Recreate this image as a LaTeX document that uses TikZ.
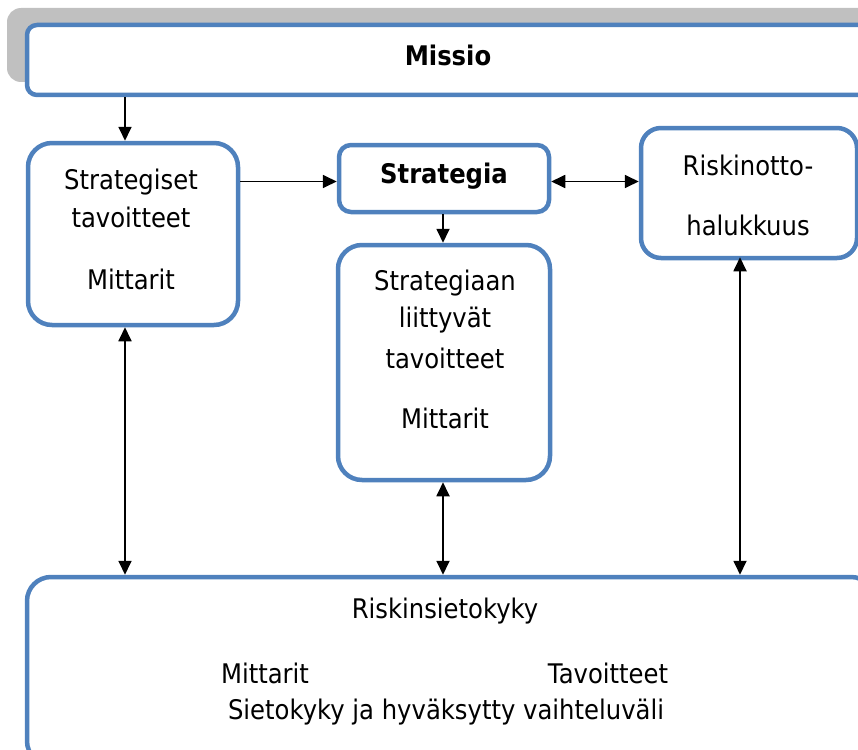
\documentclass[tikz,border=0pt]{standalone}
\usepackage{fontspec}
\setmainfont{DejaVu Sans}[FakeStretch=0.9]
\usetikzlibrary{arrows.meta}
\definecolor{bluebd}{RGB}{79,129,189}
\definecolor{grayband}{RGB}{192,192,192}
\tikzset{
  box/.style={draw=bluebd, line width=4.5pt, fill=white, inner sep=0pt},
  txt/.style={font=\fontsize{27}{30}\selectfont, inner sep=0pt, anchor=center},
  btxt/.style={font=\fontsize{27}{30}\selectfont\bfseries, inner sep=0pt, anchor=center},
  arr/.style={line width=1.8pt, -{Triangle[length=14pt,width=13pt]}},
  darr/.style={line width=1.8pt, {Triangle[length=14pt,width=13pt]}-{Triangle[length=14pt,width=13pt]}}
}
\begin{document}
\begin{tikzpicture}[x=1pt,y=-1pt]
\useasboundingbox (0,0) rectangle (858,749);
\fill[grayband, rounded corners=14pt] (7,8) rectangle (880,82);
% boxes
\node[box, rounded corners=10pt, minimum width=848pt, minimum height=70pt] (missio) at (451,60) {};
\node[box, rounded corners=24pt, minimum width=210pt, minimum height=182pt] (stg) at (133,234) {};
\node[box, rounded corners=12pt, minimum width=210pt, minimum height=67pt] (strat) at (444,178.5) {};
\node[box, rounded corners=20pt, minimum width=216pt, minimum height=130pt] (risk) at (749,193) {};
\node[box, rounded corners=24pt, minimum width=212pt, minimum height=235pt] (sl) at (444,362.5) {};
\node[box, rounded corners=24pt, minimum width=848pt, minimum height=188pt] (bottom) at (451,671) {};
% texts
\node[btxt] (tmissio) at (448,55) {Missio};
\node[txt] (t1) at (131,182) {Strategiset};
\node[txt] (t2) at (131,217) {tavoitteet};
\node[txt] (t3) at (131,279) {Mittarit};
\node[btxt] (tstrat) at (444,176) {Strategia};
\node[txt] (t4) at (748,165) {Riskinotto-};
\node[txt] (t5) at (748,225) {halukkuus};
\node[txt] (t6) at (445,283) {Strategiaan};
\node[txt] (t7) at (445,320) {liittyvät};
\node[txt] (t8) at (445,358) {tavoitteet};
\node[txt] (t9) at (445,418) {Mittarit};
\node[txt] (t10) at (445,611) {Riskinsietokyky};
\node[txt] (t11) at (265,673) {Mittarit};
\node[txt] (t12) at (608,673) {Tavoitteet};
\node[txt] (t13) at (446,712) {Sietokyky ja hyväksytty vaihteluväli};
% connectors
\draw[arr] ([xshift=-8pt]stg.north |- missio.south) -- ([xshift=-8pt]stg.north);
\draw[arr] ([yshift=-3pt]stg.east |- strat.west) -- ([yshift=-3pt]strat.west);
\draw[darr] ([yshift=-3pt]strat.east) -- ([yshift=-3pt]strat.east -| risk.west);
\draw[arr] ([xshift=-1pt]strat.south) -- ([xshift=-1pt]sl.north);
\draw[darr] ([xshift=-8pt]stg.south) -- ([xshift=-8pt]stg.south |- bottom.north);
\draw[darr] ([xshift=-1pt]sl.south) -- ([xshift=-1pt]sl.south |- bottom.north);
\draw[darr] ([xshift=-9pt,yshift=3pt]risk.south) -- ([xshift=-9pt]risk.south |- bottom.north);
\end{tikzpicture}
\end{document}
